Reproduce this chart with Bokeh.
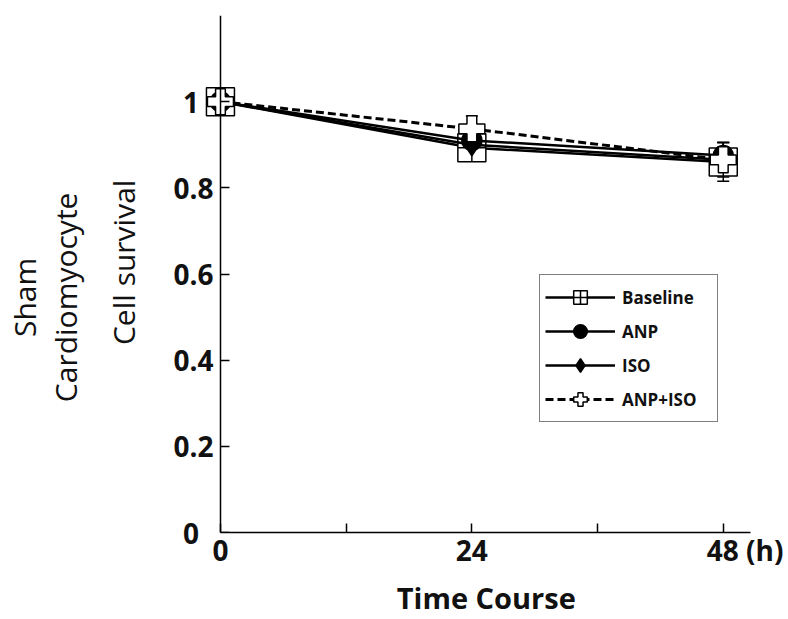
from bokeh.plotting import figure
from bokeh.models import (Range1d, FixedTicker, Whisker, TeeHead, ColumnDataSource,
                          Legend, LegendItem, LinearAxis)
from bokeh.embed import file_html
from bokeh.resources import INLINE

# ---- data ----
hours = [0, 24, 48]
baseline = [1.0, 0.893, 0.86]
baseline_err = [0.01, 0.03, 0.045]
anp = [1.0, 0.91, 0.875]
anp_err = [0.01, 0.025, 0.03]
iso = [1.0, 0.90, 0.865]
iso_err = [0.01, 0.025, 0.03]
anp_iso = [1.0, 0.937, 0.865]
anp_iso_err = [0.01, 0.03, 0.04]

NB = "\u00a0"
x_ticks = [0, 12, 24, 36, 48]
x_tick_labels = ["0", "", "24", "", NB * 6 + "48" + NB + "(h)"]
y_ticks = [0, 0.2, 0.4, 0.6, 0.8, 1]
y_tick_labels = ["0" + NB * 2, "0.2", "0.4", "0.6", "0.8", "1" + NB * 2]

FONT = "Open Sans"
INK = "#111111"

p = figure(width=786, height=619, x_range=Range1d(-2, 50.6), y_range=Range1d(0, 1.2),
           output_backend="svg", toolbar_location=None, y_axis_location=None,
           min_border_left=198, min_border_right=36, min_border_top=15, min_border_bottom=87)
p.grid.visible = False
p.outline_line_color = None
p.background_fill_color = "white"

# x axis
xa = p.xaxis[0]
xa.axis_line_color = "black"
xa.axis_line_width = 1.5
xa.major_tick_line_color = "black"
xa.major_tick_line_width = 1.5
xa.major_tick_in = 9
xa.major_tick_out = 0
xa.minor_tick_line_color = None
xa.major_label_text_font = FONT
xa.major_label_text_font_style = "bold"
xa.major_label_text_font_size = "28px"
xa.major_label_text_color = INK
xa.major_label_standoff = -2
xa.ticker = FixedTicker(ticks=x_ticks, minor_ticks=[])
xa.major_label_overrides = {t: l for t, l in zip(x_ticks, x_tick_labels)}
xa.bounds = (0, 50.6)
xa.axis_label = NB * 3 + "Time Course"
xa.axis_label_text_font = FONT
xa.axis_label_text_font_style = "bold"
xa.axis_label_text_font_size = "29px"
xa.axis_label_text_color = INK
xa.axis_label_standoff = 6

# y tick labels (outside the frame, so they are not clipped)
ylab = LinearAxis(ticker=FixedTicker(ticks=y_ticks, minor_ticks=[]),
                  major_label_overrides={t: l for t, l in zip(y_ticks, y_tick_labels)},
                  axis_line_color=None, major_tick_line_color=None, minor_tick_line_color=None,
                  major_tick_in=0, major_tick_out=0, major_label_standoff=-14,
                  major_label_text_font=FONT, major_label_text_font_style="bold",
                  major_label_text_font_size="28px", major_label_text_color=INK)
p.add_layout(ylab, "left")


def title_axis(text, standoff):
    return LinearAxis(ticker=FixedTicker(ticks=[], minor_ticks=[]),
                      axis_line_color=None, major_tick_line_color=None,
                      minor_tick_line_color=None, major_tick_in=0, major_tick_out=0,
                      major_label_standoff=0, axis_label=text, axis_label_standoff=standoff,
                      axis_label_text_font=FONT, axis_label_text_font_style="normal",
                      axis_label_text_font_size="30px", axis_label_text_color=INK)


p.add_layout(title_axis(NB * 3 + "Cell survival", 27), "left")
p.add_layout(title_axis("Cardiomyocyte" + NB * 6, 14), "left")
p.add_layout(title_axis("Sham" + NB * 6, -3), "left")

# y axis line + inward ticks at x = 0
yline = LinearAxis(fixed_location=0, ticker=FixedTicker(ticks=y_ticks, minor_ticks=[]),
                   major_label_overrides={t: "" for t in y_ticks},
                   major_label_text_font_size="0px", major_label_standoff=0,
                   axis_line_color="black", axis_line_width=1.5,
                   major_tick_line_color="black", major_tick_line_width=1.5,
                   major_tick_in=9, major_tick_out=0, minor_tick_line_color=None,
                   bounds=(0, 1.2))
p.add_layout(yline, "left")

series = [
    ("Baseline", baseline, baseline_err, "square_cross", 28, "white", "solid", 2.5),
    ("ANP", anp, anp_err, "circle", 20, "black", "solid", 2.5),
    ("ISO", iso, iso_err, "diamond", 22, "black", "solid", 2.5),
    ("ANP+ISO", anp_iso, anp_iso_err, "plus", 26, "white", "8 4", 3),
]

items = []
for name, vals, errs, marker, size, fill, dash, lw in series:
    src = ColumnDataSource(dict(x=hours, y=vals,
                                upper=[v + e for v, e in zip(vals, errs)],
                                lower=[v - e for v, e in zip(vals, errs)]))
    w = Whisker(base="x", upper="upper", lower="lower", source=src,
                line_color="black", line_width=1.5,
                upper_head=TeeHead(size=12, line_color="black", line_width=1.5),
                lower_head=TeeHead(size=12, line_color="black", line_width=1.5))
    p.add_layout(w)
    lr = p.line("x", "y", source=src, line_color="black", line_width=lw, line_dash=dash)
    sr = p.scatter("x", "y", source=src, marker=marker, size=size, fill_color=fill,
                   line_color="black", line_width=1.5)
    items.append(LegendItem(label=name, renderers=[lr, sr]))

legend = Legend(items=items, location=(340, 110), glyph_width=70, glyph_height=34,
                spacing=0, padding=5, label_width=90, label_standoff=7,
                label_text_font=FONT, label_text_font_style="bold",
                label_text_font_size="17px", label_text_color=INK,
                border_line_color="black", border_line_width=1.5,
                background_fill_color="white")
p.add_layout(legend)

open("out.html", "w").write(file_html(p, INLINE))
